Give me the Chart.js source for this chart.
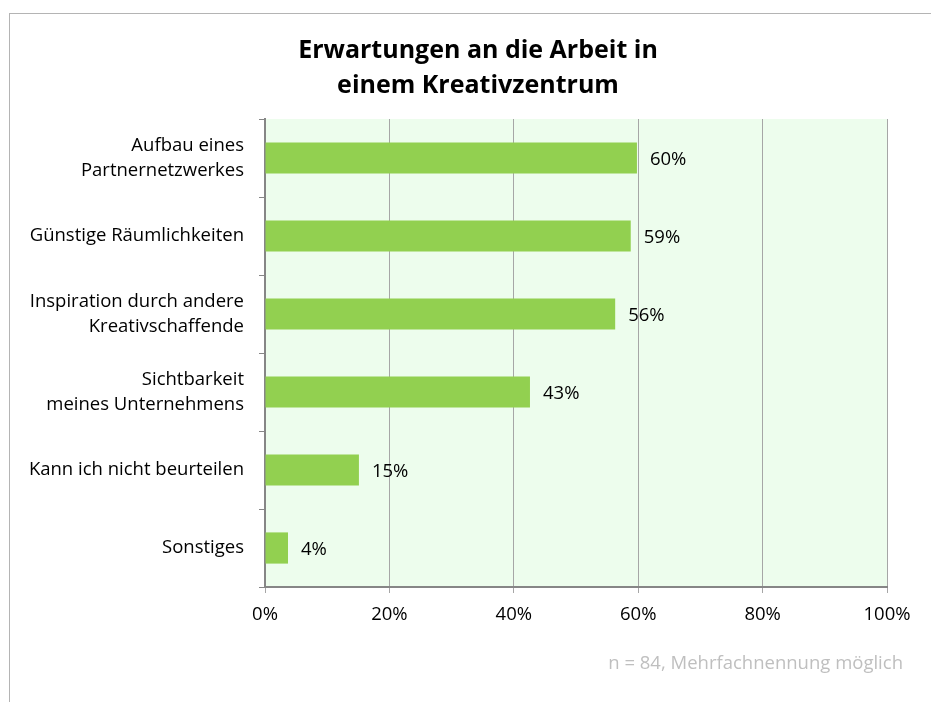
<!DOCTYPE html>
<html>
<head>
<meta charset="utf-8">
<script src="https://cdn.jsdelivr.net/npm/chart.js@4"></script>
<style>
  html, body { margin: 0; padding: 0; background: #fff; }
  .grafico { position: relative; width: 931px; height: 702px; }
  .rahmen { position: absolute; left: 9px; top: 13px; right: -5px; bottom: -5px; border-top: 1px solid #b4b4b4; border-left: 1px solid #b4b4b4; }
  canvas { position: absolute; left: 0; top: 0; }
</style>
</head>
<body>
<div class="grafico">
  <div class="rahmen"></div>
  <canvas id="myChart" width="931" height="702"></canvas>
</div>
<script>
const kategorien = [
  ['Aufbau eines', 'Partnernetzwerkes'],
  'Günstige Räumlichkeiten',
  ['Inspiration durch andere', 'Kreativschaffende'],
  ['Sichtbarkeit', 'meines Unternehmens'],
  'Kann ich nicht beurteilen',
  'Sonstiges'
];
const anteile = [59.8, 58.8, 56.3, 42.6, 15.1, 3.7];
const beschriftungen = ['60%', '59%', '56%', '43%', '15%', '4%'];
const titelZeilen = ['Erwartungen an die Arbeit in', 'einem Kreativzentrum'];
const fussnote = 'n = 84, Mehrfachnennung möglich';

const SCHRIFT = '"Open Sans", "Liberation Sans", sans-serif';

// Hintergrund der Zeichenfläche, Titel, Werte und Fußnote
const extras = {
  id: 'extras',
  beforeDraw(chart) {
    const a = chart.chartArea, c = chart.ctx;
    c.save();
    c.fillStyle = '#edfded';
    c.fillRect(a.left, a.top, a.right - a.left, a.bottom - a.top);
    c.restore();
  },
  afterDraw(chart) {
    const c = chart.ctx;
    c.save();
    c.fillStyle = '#000';
    c.textAlign = 'center';
    c.textBaseline = 'middle';
    c.font = 'bold 25px ' + SCHRIFT;
    c.fillText(titelZeilen[0], 478, 51);
    c.fillText(titelZeilen[1], 478, 86);

    c.font = '18.5px ' + SCHRIFT;
    c.textAlign = 'left';
    chart.getDatasetMeta(0).data.forEach((bar, i) => {
      c.fillText(beschriftungen[i], bar.x + 13, bar.y + 2);
    });

    c.fillStyle = '#bfbfbf';
    c.textAlign = 'right';
    c.font = '18.5px ' + SCHRIFT;
    c.fillText(fussnote, 903, 664);
    c.restore();
  }
};

new Chart(document.getElementById('myChart'), {
  type: 'bar',
  data: {
    labels: kategorien,
    datasets: [{
      data: anteile,
      backgroundColor: '#92d050',
      borderWidth: 0,
      categoryPercentage: 0.8,
      barPercentage: 0.5
    }]
  },
  options: {
    indexAxis: 'y',
    responsive: false,
    animation: false,
    events: [],
    layout: { padding: { left: 0, top: 119, right: 44, bottom: 0 } },
    plugins: { legend: { display: false }, title: { display: false }, tooltip: { enabled: false } },
    scales: {
      x: {
        min: 0, max: 100,
        afterFit(s) { s.height = 115; },
        ticks: { stepSize: 20, callback: v => v + '%', color: '#000', padding: 11, font: { family: SCHRIFT, size: 18.5 } },
        grid: { color: '#a6a6a6', lineWidth: 1, tickLength: 6 },
        border: { color: '#868686', width: 2 }
      },
      y: {
        afterFit(s) { s.width = 265; },
        ticks: { color: '#000', padding: 15, font: { family: SCHRIFT, size: 18.5, lineHeight: 1.38 } },
        grid: { drawOnChartArea: false, offset: true, tickLength: 6, color: '#868686' },
        border: { color: '#868686', width: 2 }
      }
    }
  },
  plugins: [extras]
});
</script>
</body>
</html>
